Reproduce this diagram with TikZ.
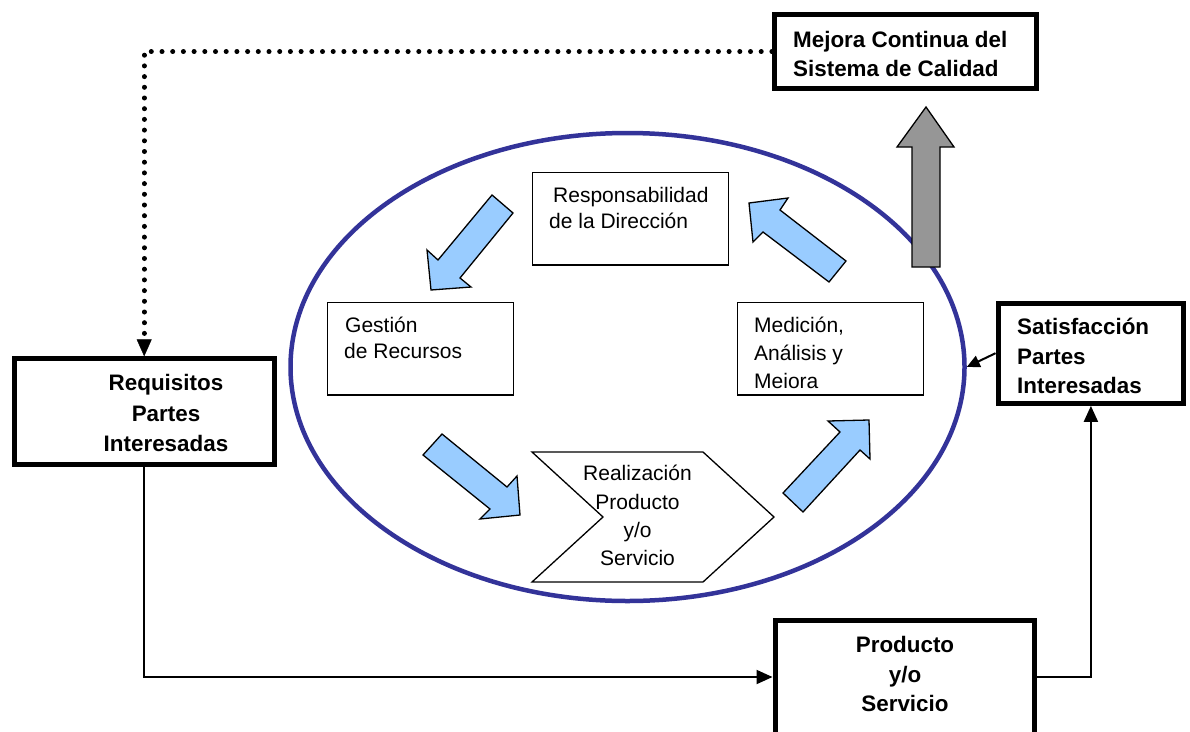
\documentclass[tikz,border=0pt]{standalone}
\usepackage{fontspec}
\setmainfont{Liberation Sans}
\usetikzlibrary{shapes.geometric,arrows.meta}
\definecolor{ringblue}{RGB}{51,51,153}
\definecolor{flowblue}{RGB}{153,204,255}
\definecolor{upgray}{RGB}{150,150,150}
\begin{document}
\begin{tikzpicture}[x=1pt,y=-1pt,
  boldbox/.style={draw, fill=white, line width=5pt, inner sep=0pt},
  thinbox/.style={draw, fill=white, line width=1.3pt, inner sep=0pt},
  reg/.style={font=\fontsize{21}{25}\selectfont, inner sep=0pt},
  bld/.style={font=\fontsize{22.4}{27}\selectfont\bfseries, inner sep=0pt},
  flow/.style={fill=flowblue, draw=black, line width=1.3pt, line join=miter},
  link/.style={line width=2pt, -{Triangle[length=16pt,width=14pt]}},
  dotlink/.style={line width=4.8pt, line cap=round, dash pattern=on 0.2pt off 10.5pt,
    -{Triangle[length=17pt,width=15pt,line width=0.5pt]}},
]
\useasboundingbox (0,0) rectangle (1190,731);
\clip (0,0) rectangle (1190,731);

% quality ring
\node[ellipse, draw=ringblue, line width=4.5pt, minimum width=674pt,
      minimum height=468pt, inner sep=0pt] (ring) at (627.5,367) {};

% outer boxes
\node[boldbox, minimum width=261.5pt, minimum height=73.3pt] (mejora) at (905.25,51.6) {};
\node[boldbox, minimum width=260pt, minimum height=105.7pt] (req) at (144.2,411.7) {};
\node[boldbox, minimum width=185.7pt, minimum height=100.3pt] (sat) at (1090.9,353.2) {};
\node[boldbox, minimum width=259.5pt, minimum height=114pt] (prod) at (904.75,677) {};

% process boxes inside the ring
\node[thinbox, minimum width=196pt, minimum height=92.7pt] (resp) at (630.3,218.7) {};
\node[thinbox, minimum width=186pt, minimum height=92.7pt] (gest) at (420.3,348.7) {};
\node[thinbox, minimum width=186pt, minimum height=92.7pt] (medic) at (830.3,348.7) {};
\draw[line width=1.3pt, fill=white, line join=miter]
  (532,452) -- (703,452) -- (774,517) -- (703,582) -- (532,582) -- (603,517) -- cycle;

% texts
\node[bld, anchor=base west] (mejoraA) at (793,47) {Mejora Continua del};
\node[bld, anchor=base west] (mejoraB) at (793,76) {Sistema de Calidad};
\node[bld, anchor=base] (reqA) at (166,390) {Requisitos};
\node[bld, anchor=base] (reqB) at (166,421) {Partes};
\node[bld, anchor=base] (reqC) at (166,451) {Interesadas};
\node[bld, anchor=base west] (satA) at (1017,334) {Satisfacción};
\node[bld, anchor=base west] (satB) at (1017,364) {Partes};
\node[bld, anchor=base west] (satC) at (1017,393) {Interesadas};
\node[bld, anchor=base] (prodA) at (905,652) {Producto};
\node[bld, anchor=base] (prodB) at (905,682) {y/o};
\node[bld, anchor=base] (prodC) at (905,711) {Servicio};

\node[reg, anchor=base west] (respA) at (553,202) {Responsabilidad};
\node[reg, anchor=base west] (respB) at (549,228) {de la Dirección};
\node[reg, anchor=base west] (gestA) at (345,332) {Gestión};
\node[reg, anchor=base west] (gestB) at (344,358) {de Recursos};
\node[reg, anchor=base west] (medicA) at (754,332) {Medición,};
\node[reg, anchor=base west] (medicB) at (754,360) {Análisis y};
\node[reg, anchor=base west] (medicC) at (754,388) {Meiora};
\node[reg, anchor=base] (realA) at (637.5,480) {Realización};
\node[reg, anchor=base] (realB) at (637.5,509) {Producto};
\node[reg, anchor=base] (realC) at (637.5,537) {y/o};
\node[reg, anchor=base] (realD) at (637.5,565) {Servicio};

% cycle arrows
\draw[flow] (492,195) -- (513,213) -- (460,278) -- (471,287) -- (431,290) -- (427,250) -- (438,260) -- cycle;
\draw[flow] (442,434) -- (423,455) -- (490,509) -- (480,519) -- (520,515) -- (517,476) -- (507,487) -- cycle;
\draw[flow] (783,493) -- (803,512) -- (860,450) -- (870,459) -- (869,420) -- (828,421) -- (840,432) -- cycle;
\draw[flow] (846,261) -- (829,282) -- (763,232) -- (753,242) -- (749,203) -- (788,198) -- (780,210) -- cycle;

% improvement arrow
\draw[fill=upgray, line width=1.3pt, line join=miter]
  (912,267) -- (912,147) -- (897,147) -- (926,107) -- (954,147) -- (940,147) -- (940,267) -- cycle;

% connectors
\draw[dotlink] (mejora.west) -| (req.north);
\draw[link] (req.south) |- (prod.west);
\draw[link] (prod.east) -| (sat.south);
\draw[line width=2pt, -{Triangle[length=13pt,width=12pt]}] (sat.west) -- (ring.east);
\end{tikzpicture}
\end{document}
